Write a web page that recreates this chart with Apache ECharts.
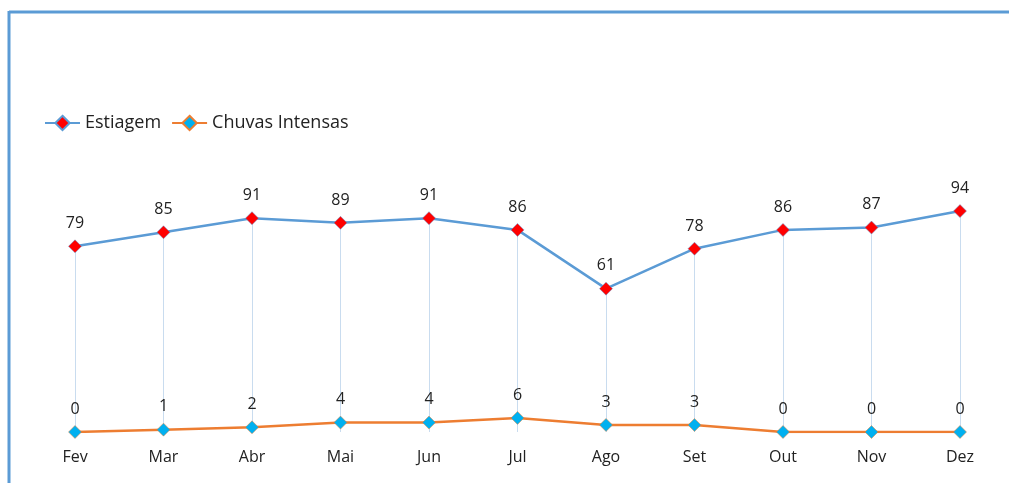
<!DOCTYPE html>
<html>
<head>
<meta charset="utf-8">
<script src="https://cdn.jsdelivr.net/npm/echarts@6/dist/echarts.min.js"></script>
<style>
  html, body { margin: 0; padding: 0; background: #fff; }
  #chart { width: 1009px; height: 483px; }
</style>
</head>
<body>
<div id="chart"></div>
<script>
const months = ['Fev', 'Mar', 'Abr', 'Mai', 'Jun', 'Jul', 'Ago', 'Set', 'Out', 'Nov', 'Dez']
const estiagem = [79, 85, 91, 89, 91, 86, 61, 78, 86, 87, 94]
const chuvas = [0, 1, 2, 4, 4, 6, 3, 3, 0, 0, 0]

const font = '"Open Sans", "Noto Sans", sans-serif'

// linhas de chamada de cada ponto ate o eixo
const dropLines = estiagem.map((v, i) => [
  { coord: [i, v] },
  { coord: [i, 0] }
])

const chart = echarts.init(document.getElementById('chart'))
chart.setOption({
  animation: false,
  textStyle: { fontFamily: font },
  graphic: [
    { type: 'line', shape: { x1: 9, y1: 12, x2: 1009, y2: 12 }, style: { stroke: '#5b9bd5', lineWidth: 3 } },
    { type: 'line', shape: { x1: 9, y1: 11, x2: 9, y2: 483 }, style: { stroke: '#5b9bd5', lineWidth: 3 } }
  ],
  legend: {
    left: 44,
    top: 114,
    padding: 0,
    itemWidth: 35,
    itemHeight: 18,
    itemGap: 10,
    textStyle: { fontSize: 18, color: '#222', fontFamily: font },
    data: ['Estiagem', 'Chuvas Intensas']
  },
  grid: { left: 75, right: 49, top: 197, bottom: 51 },
  xAxis: {
    type: 'category',
    data: months,
    boundaryGap: false,
    axisLine: { show: false },
    axisTick: { show: false },
    axisLabel: { fontSize: 16, color: '#222', margin: 17, fontFamily: font }
  },
  yAxis: {
    type: 'value',
    min: 0,
    max: 100,
    show: false,
    splitLine: { show: false }
  },
  series: [
    {
      name: 'Estiagem',
      type: 'line',
      data: estiagem,
      symbol: 'diamond',
      symbolSize: 13,
      lineStyle: { color: '#5b9bd5', width: 2.5 },
      itemStyle: { color: '#ff0000', borderColor: '#5b9bd5', borderWidth: 0.5 },
      label: { show: true, position: 'top', distance: 8, fontSize: 16, color: '#222', fontFamily: font },
      markLine: {
        silent: true,
        symbol: 'none',
        label: { show: false },
        lineStyle: { color: '#c9dcef', width: 1, type: 'solid' },
        data: dropLines,
        z: 1
      },
      z: 3
    },
    {
      name: 'Chuvas Intensas',
      type: 'line',
      data: chuvas,
      symbol: 'diamond',
      symbolSize: 13,
      lineStyle: { color: '#ed7d31', width: 2.5 },
      itemStyle: { color: '#00b0f0', borderColor: '#ed7d31', borderWidth: 0.5 },
      label: { show: true, position: 'top', distance: 8, fontSize: 16, color: '#222', fontFamily: font },
      z: 3
    }
  ]
})
</script>
</body>
</html>
